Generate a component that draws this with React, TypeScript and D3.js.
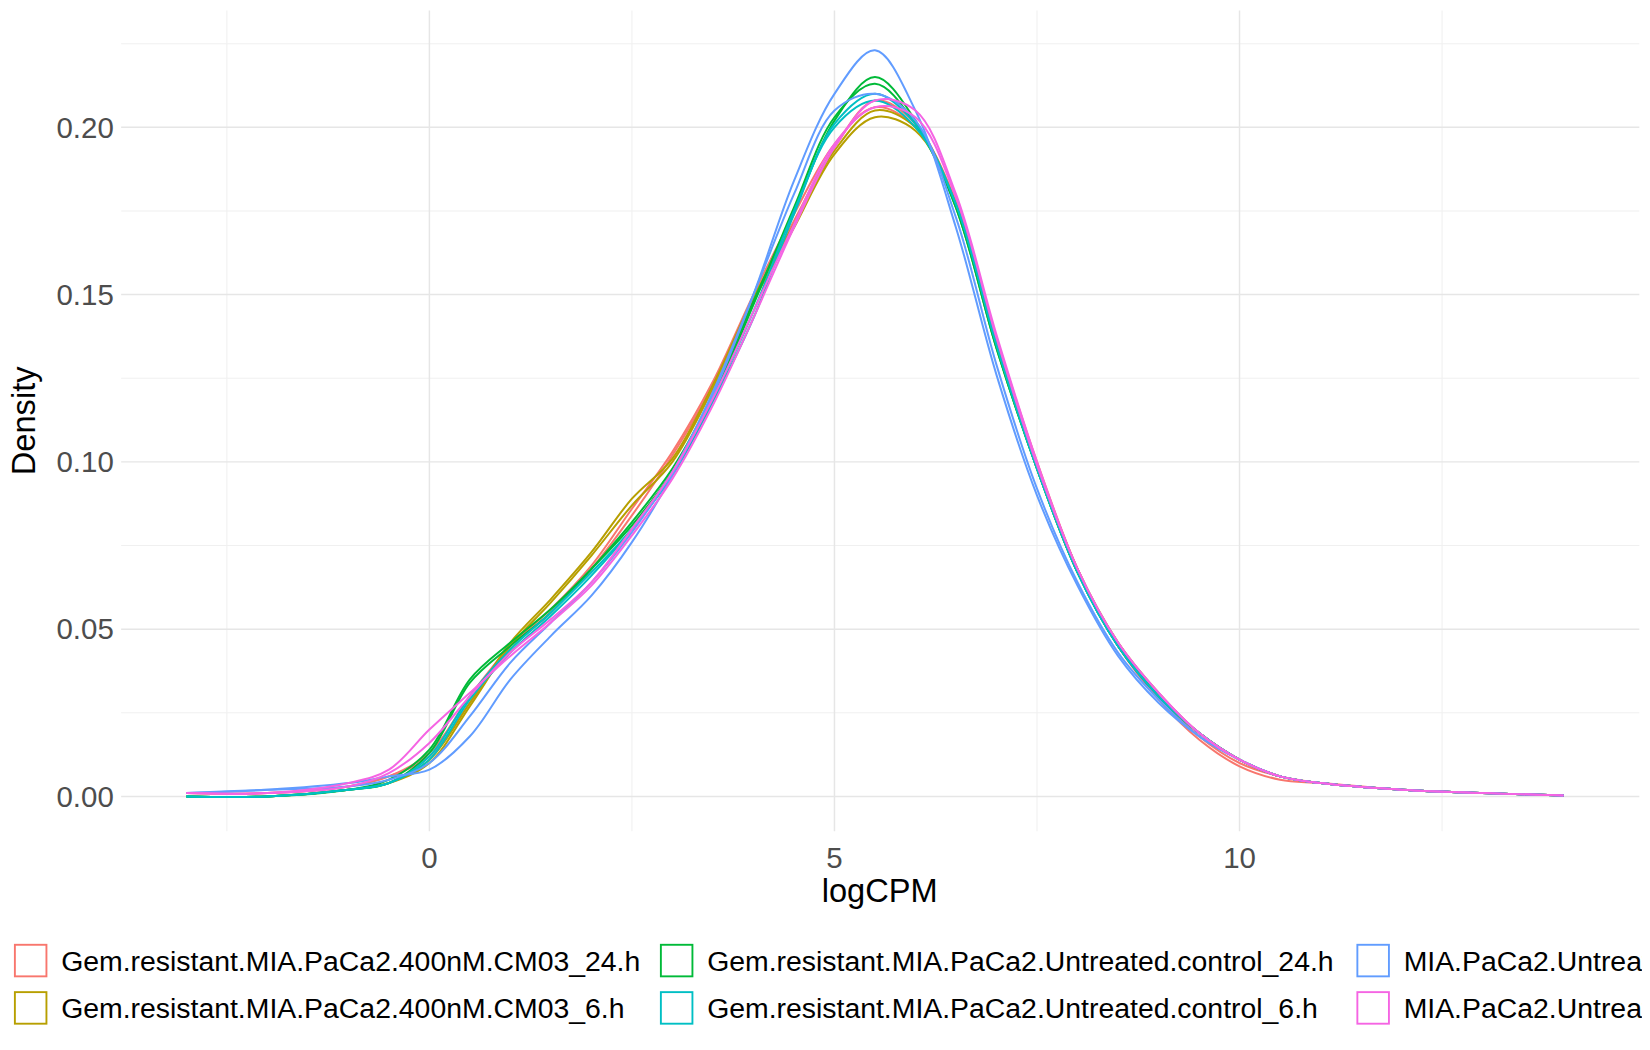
import React from 'react';
import * as d3 from 'd3';

const xGrid = [-3, -2, -1, -0.5, 0, 0.5, 1, 1.5, 2, 2.5, 3, 3.5, 4, 4.5, 5, 5.5, 6, 6.5, 7, 7.5, 8, 8.5, 9, 9.5, 10, 10.5, 11, 12, 13, 14];

const groups = [
  'Gem.resistant.MIA.PaCa2.400nM.CM03_24.h',
  'Gem.resistant.MIA.PaCa2.400nM.CM03_6.h',
  'Gem.resistant.MIA.PaCa2.Untreated.control_24.h',
  'Gem.resistant.MIA.PaCa2.Untreated.control_6.h',
  'MIA.PaCa2.Untreated.control_24.h',
  'MIA.PaCa2.Untreated.control_6.h',
];
const colors = ['#F8766D', '#B79F00', '#00BA38', '#00BFC4', '#619CFF', '#F564E3'];

// density values read at xGrid, two samples per group
const curves: { g: number; y: number[] }[] = [
  { g: 0, y: [0.001, 0.001, 0.003, 0.006, 0.013, 0.030, 0.045, 0.056, 0.069, 0.086, 0.103, 0.124, 0.150, 0.174, 0.195, 0.206, 0.200, 0.178, 0.137, 0.100, 0.068, 0.045, 0.029, 0.017, 0.009, 0.005, 0.004, 0.002, 0.001, 0.0003] },
  { g: 0, y: [0.001, 0.001, 0.003, 0.006, 0.012, 0.028, 0.044, 0.055, 0.068, 0.084, 0.102, 0.123, 0.149, 0.172, 0.194, 0.208, 0.201, 0.177, 0.136, 0.099, 0.068, 0.045, 0.030, 0.018, 0.010, 0.006, 0.004, 0.002, 0.001, 0.0003] },
  { g: 1, y: [0.000, 0.000, 0.002, 0.004, 0.010, 0.027, 0.045, 0.058, 0.072, 0.087, 0.100, 0.122, 0.148, 0.170, 0.192, 0.203, 0.199, 0.177, 0.136, 0.099, 0.068, 0.046, 0.030, 0.019, 0.011, 0.006, 0.004, 0.002, 0.001, 0.0003] },
  { g: 1, y: [0.000, 0.000, 0.002, 0.004, 0.011, 0.028, 0.046, 0.059, 0.073, 0.089, 0.101, 0.123, 0.149, 0.171, 0.193, 0.205, 0.200, 0.177, 0.135, 0.098, 0.067, 0.046, 0.031, 0.019, 0.011, 0.006, 0.004, 0.002, 0.001, 0.0003] },
  { g: 2, y: [0.000, 0.000, 0.002, 0.004, 0.013, 0.034, 0.045, 0.055, 0.068, 0.082, 0.098, 0.120, 0.148, 0.175, 0.202, 0.215, 0.202, 0.176, 0.134, 0.098, 0.067, 0.045, 0.030, 0.019, 0.011, 0.006, 0.004, 0.002, 0.001, 0.0003] },
  { g: 2, y: [0.000, 0.000, 0.002, 0.005, 0.014, 0.035, 0.046, 0.056, 0.068, 0.081, 0.097, 0.119, 0.147, 0.176, 0.203, 0.213, 0.201, 0.176, 0.134, 0.098, 0.067, 0.045, 0.030, 0.019, 0.011, 0.006, 0.004, 0.002, 0.001, 0.0003] },
  { g: 3, y: [0.000, 0.000, 0.002, 0.004, 0.012, 0.030, 0.044, 0.055, 0.067, 0.080, 0.096, 0.118, 0.143, 0.174, 0.201, 0.210, 0.201, 0.177, 0.135, 0.098, 0.067, 0.045, 0.030, 0.019, 0.011, 0.006, 0.004, 0.002, 0.001, 0.0003] },
  { g: 3, y: [0.000, 0.000, 0.002, 0.004, 0.011, 0.029, 0.043, 0.054, 0.066, 0.080, 0.097, 0.119, 0.145, 0.175, 0.200, 0.208, 0.200, 0.177, 0.135, 0.098, 0.067, 0.045, 0.030, 0.019, 0.011, 0.006, 0.004, 0.002, 0.001, 0.0003] },
  { g: 4, y: [0.001, 0.002, 0.004, 0.006, 0.008, 0.018, 0.035, 0.048, 0.060, 0.076, 0.096, 0.120, 0.150, 0.184, 0.210, 0.223, 0.205, 0.170, 0.126, 0.090, 0.063, 0.042, 0.028, 0.018, 0.011, 0.006, 0.004, 0.002, 0.001, 0.0003] },
  { g: 4, y: [0.001, 0.002, 0.003, 0.005, 0.010, 0.024, 0.040, 0.052, 0.064, 0.079, 0.097, 0.121, 0.150, 0.180, 0.205, 0.210, 0.202, 0.173, 0.129, 0.092, 0.064, 0.043, 0.029, 0.018, 0.011, 0.006, 0.004, 0.002, 0.001, 0.0003] },
  { g: 5, y: [0.001, 0.001, 0.004, 0.008, 0.020, 0.031, 0.042, 0.052, 0.063, 0.078, 0.095, 0.117, 0.143, 0.170, 0.194, 0.208, 0.205, 0.180, 0.138, 0.100, 0.068, 0.046, 0.031, 0.019, 0.011, 0.006, 0.004, 0.002, 0.001, 0.0003] },
  { g: 5, y: [0.001, 0.001, 0.003, 0.007, 0.016, 0.030, 0.043, 0.053, 0.064, 0.080, 0.097, 0.119, 0.145, 0.171, 0.195, 0.206, 0.203, 0.179, 0.137, 0.099, 0.068, 0.046, 0.031, 0.019, 0.011, 0.006, 0.004, 0.002, 0.001, 0.0003] },
];

const xMajor = [0, 5, 10];
const xMinor = [-2.5, 2.5, 7.5, 12.5];
const yMajor = [0, 0.05, 0.1, 0.15, 0.2];
const yMinor = [0.025, 0.075, 0.125, 0.175, 0.225];

export default function App() {
  // layout measured on a 1568x998 copy, scaled up to the 1650 wide page
  const W = 1568, H = 998;
  const panel = { left: 115, right: 1558, top: 10, bottom: 790 };
  const x = d3.scaleLinear().domain([0, 10]).range([408, 1178]);
  const y = d3.scaleLinear().domain([0, 0.2]).range([757, 121]);
  const line = d3.line<number>()
    .x((_, i) => x(xGrid[i]))
    .y(d => y(d))
    .curve(d3.curveCatmullRom.alpha(0.5));
  const font = 'Liberation Sans, Arial, sans-serif';

  return (
    <svg width={1650} height={1050} viewBox={`0 0 ${W} ${H}`} style={{ display: 'block', margin: -8 }} fontFamily={font}>
      <rect width={W} height={H} fill="#fff" />
      {xMinor.map(v => <line key={'xm' + v} x1={x(v)} x2={x(v)} y1={panel.top} y2={panel.bottom} stroke="#f0f0f0" strokeWidth={1} />)}
      {yMinor.map(v => <line key={'ym' + v} x1={panel.left} x2={panel.right} y1={y(v)} y2={y(v)} stroke="#f0f0f0" strokeWidth={1} />)}
      {xMajor.map(v => <line key={'xM' + v} x1={x(v)} x2={x(v)} y1={panel.top} y2={panel.bottom} stroke="#e6e6e6" strokeWidth={1.4} />)}
      {yMajor.map(v => <line key={'yM' + v} x1={panel.left} x2={panel.right} y1={y(v)} y2={y(v)} stroke="#e6e6e6" strokeWidth={1.4} />)}
      {curves.map((c, i) => (
        <path key={i} d={line(c.y) || ''} fill="none" stroke={colors[c.g]} strokeWidth={1.9} />
      ))}
      {yMajor.map(v => (
        <text key={'yt' + v} x={108} y={y(v)} dy="0.35em" textAnchor="end" fontSize={28} fill="#4d4d4d">{v.toFixed(2)}</text>
      ))}
      {xMajor.map(v => (
        <text key={'xt' + v} x={x(v)} y={825} textAnchor="middle" fontSize={28} fill="#4d4d4d">{v}</text>
      ))}
      <text x={836} y={857} textAnchor="middle" fontSize={31} fill="#000">logCPM</text>
      <text transform="translate(33,400) rotate(-90)" textAnchor="middle" fontSize={31} fill="#000">Density</text>
      {groups.map((g, i) => {
        const col = Math.floor(i / 2), row = i % 2;
        const kx = [14, 628, 1290][col];
        const ky = [898, 943][row];
        return (
          <g key={g}>
            <rect x={kx} y={ky} width={30} height={30} fill="#fff" stroke={colors[i]} strokeWidth={1.8} />
            <text x={kx + 44} y={ky + 15} dy="0.35em" fontSize={27} fill="#000">{g}</text>
          </g>
        );
      })}
    </svg>
  );
}
